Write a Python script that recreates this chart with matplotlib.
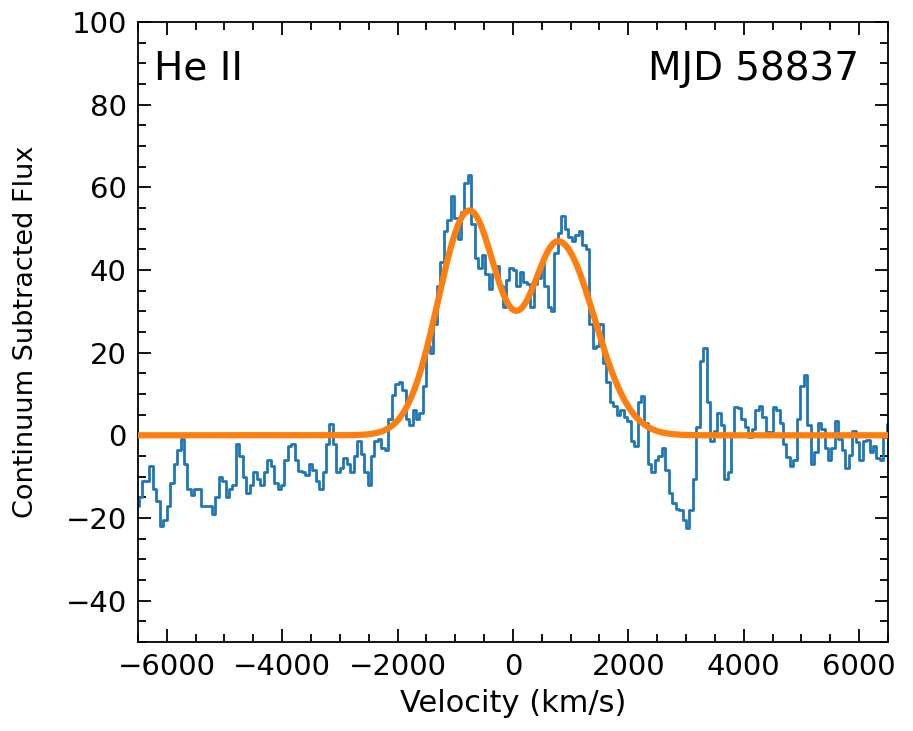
import numpy as np
import matplotlib
matplotlib.use("Agg")
import matplotlib.pyplot as plt
from matplotlib.ticker import MultipleLocator

# ---- data (flux on a 60 km/s velocity grid) ----
v_start = -6510.0
v_step = 60.0
flux = [
    # -6510 .. -4290
    -17, -15, -11, -11, -7.5, -13, -16, -22, -20.5, -17,
    -11.5, -7, -3.5, -1, -7, -13, -14.5, -13, -13, -17,
    -17, -17, -19, -15, -10, -11, -15, -13, -12, -2,
    -5, -10, -14, -12, -9, -10.5, -12, -9,
    # -4230 .. -2130
    -6, -7.5, -11.5, -13, -12, -6, -2.5, -2, -6, -8.7,
    -8.9, -9.5, -7, -8.5, -11, -13, -9, -2, 2.7, -2,
    -9, -8, -5.5, -7, -9, -5, -1.5, -4.5, -9, -12,
    -5, -1.5, -1, -3, -3.5, 4,
    # -2070 .. -30
    9.7, 12.5, 13, 11, 4, 2.5, 6, 4, 5.5, 12,
    21.5, 20, 27, 36, 42, 49.5, 52, 58, 52.5, 47.5,
    54, 61, 63, 51, 43, 40.5, 43.5, 39, 35.5, 39,
    41, 36, 31, 37.5, 40.5,
    # 30 .. 2130
    40, 36, 39.5, 37, 36.5, 31, 36.5, 38, 42, 36,
    31, 30, 44, 49, 53, 50, 48, 47, 48.5, 49.5,
    46, 45, 27, 21, 21.5, 27, 17.5, 13, 8, 7,
    5, 6, 4.5, 3.5, -1.5, -2.5,
    # 2190 .. 4350
    8, 9.5, 3, -7, -9, -6, -5, -3, -8.5, -14,
    -16.5, -17.8, -18, -20.5, -22.5, -18, -10.5, 2, 18, 21,
    8, -1.5, 1, 5.5, 2.5, -10.5, -9, 0, 6.9, 6.5,
    4, 2, -0.5, 1.5, 6, 7, 4.5,
    # 4410 .. 6510
    0.8, 0.8, 6.9, 6, 3, -2, -5.2, -7.5, -6, 4,
    12, 14.5, 2.5, -7, -4, 3, 1.5, -3, -6, -3,
    3.5, -1, -3.6, -8, -4.8, 1, -1.6, -6, -1.5, -1.2,
    -4, -2.5, -5.5, -6, -0.5, 2.8,
]
velocity = v_start + v_step * np.arange(len(flux))

# fit components (amplitude, centre, sigma left, sigma right)
comp1 = (54.0, -765.0, 530.0, 505.0)
comp2 = (46.5, 800.0, 505.0, 615.0)

line_label = "He II"
epoch_label = "MJD 58837"
xlabel = "Velocity (km/s)"
ylabel = "Continuum Subtracted Flux"
xlim = (-6500, 6500)
ylim = (-50, 100)


def split_gauss(v, A, mu, sl, sr):
    s = np.where(v < mu, sl, sr)
    return A * np.exp(-0.5 * ((v - mu) / s) ** 2)


plt.rcParams['font.family'] = ['DejaVu Sans']
fig = plt.figure(figsize=(9.13, 7.31), dpi=100)
ax = fig.add_axes([0.151, 0.1218, 0.8216, 0.8482])

ax.step(velocity, flux, where='mid', color='#1f77b4', lw=2.0, zorder=2)
vfit = np.linspace(xlim[0], xlim[1], 2000)
fit = split_gauss(vfit, *comp1) + split_gauss(vfit, *comp2)
ax.plot(vfit, fit, color='#ff7f0e', lw=4.5, zorder=3, solid_capstyle='round')

ax.set_xlim(*xlim)
ax.set_ylim(*ylim)
ax.xaxis.set_major_locator(MultipleLocator(2000))
ax.xaxis.set_minor_locator(MultipleLocator(500))
ax.yaxis.set_major_locator(MultipleLocator(20))
ax.yaxis.set_minor_locator(MultipleLocator(5))
ax.tick_params(which='both', direction='in', top=True, right=True,
               labelsize=21, width=1.3, pad=8)
ax.tick_params(which='major', length=9.5)
ax.tick_params(which='minor', length=5.5)
for sp in ax.spines.values():
    sp.set_linewidth(1.3)

ax.set_xlabel(xlabel, fontsize=22, labelpad=6)
ax.set_ylabel(ylabel, fontsize=19.5, labelpad=19)

ax.text(0.022, 0.955, line_label, transform=ax.transAxes, fontsize=28,
        ha='left', va='top')
ax.text(0.962, 0.955, epoch_label, transform=ax.transAxes, fontsize=28,
        ha='right', va='top')

fig.savefig("out.png", dpi=100)
